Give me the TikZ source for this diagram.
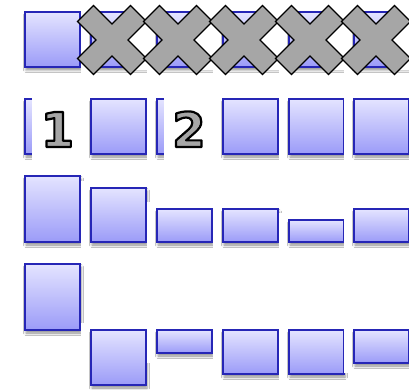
\documentclass[tikz,border=0pt]{standalone}
\usepackage{fontspec}
\newfontfamily\digitfont{DejaVu Sans Bold}
\usetikzlibrary{shadows.blur}

\definecolor{boxline}{RGB}{38,38,182}
\definecolor{boxtop}{RGB}{228,228,255}
\definecolor{boxbottom}{RGB}{155,155,248}
\definecolor{crossgray}{RGB}{166,166,166}

\tikzset{
  cellbox/.style={draw=boxline,line width=2.1pt,top color=boxtop,bottom color=boxbottom,
    blur shadow={shadow xshift=1pt,shadow yshift=-3pt,shadow blur radius=2.5pt,shadow opacity=45}},
  cellbg/.style={fill=white},
  crossmark/.style={fill=crossgray,draw=black,line width=1.4pt,line join=miter},
  digit/.style={anchor=base,inner sep=0pt,text=crossgray,
    font=\digitfont\fontsize{48}{48}\selectfont}
}
% glyph filled in the text colour and stroked in black
\newcommand\outlined[1]{\special{pdf:literal direct 0 0 0 RG 2.2 w 1 j 2 Tr}#1\special{pdf:literal direct 0 Tr}}

\begin{document}
\begin{tikzpicture}[x=1pt,y=-1pt]
  \clip (0,0) rectangle (409,390);
  \fill[white] (0,0) rectangle (409,390);
  % columns: left edge, top of row 3, top and bottom of row 4
  \foreach \x/\r/\s/\t in {25/176/264/330,91/188/330/385,157/209/330/353,
                           223/209/330/374,289/220/330/374,354/209/330/363} {
    \foreach \top/\bot in {12/67,99/154,\r/242,\s/\t} {
      \fill[cellbg] (\x-10,\top-7) rectangle (\x+60,\bot+10);
      \draw[cellbox] (\x,\top) rectangle (\x+55,\bot);
    }
  }
  % numbered cells of row 2
  \fill[cellbg] (32,92) rectangle (81,164);
  \node[digit] (one) at (57.5,147) {\outlined{1}};
  \fill[cellbg] (164,92) rectangle (213,164);
  \node[digit] (two) at (189,147) {\outlined{2}};
  % crossed out cells of row 1
  \foreach \cx in {112,178,244,310,376} {
    \fill[cellbg] (\cx+15,10) rectangle (\cx+36,70);
    \draw[crossmark] (\cx,24) -- (\cx+18.5,5.5) -- (\cx+34.5,21.5) -- (\cx+16,40)
      -- (\cx+34.5,58.5) -- (\cx+18.5,74.5) -- (\cx,56) -- (\cx-18.5,74.5)
      -- (\cx-34.5,58.5) -- (\cx-16,40) -- (\cx-34.5,21.5) -- (\cx-18.5,5.5) -- cycle;
  }
\end{tikzpicture}
\end{document}
